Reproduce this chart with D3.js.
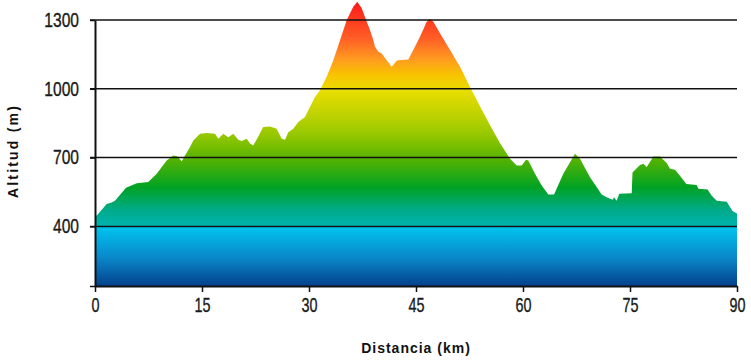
<!DOCTYPE html>
<html>
<head>
<meta charset="utf-8">
<script src="https://cdn.jsdelivr.net/npm/d3@7"></script>
<style>
  body { margin: 0; background: #fff; }
  svg { display: block; }
  .tick text { font-family: "Liberation Sans", Arial, sans-serif; font-size: 20px; fill: #1a1a1a; stroke: #1a1a1a; stroke-width: 0.35px; }
  .title { font-family: "Liberation Sans", Arial, sans-serif; font-weight: bold; font-size: 14px; letter-spacing: 1px; fill: #111; }
</style>
</head>
<body>
<svg id="chart" width="751" height="360"></svg>
<script>
// profile: distance (km) and altitude (m)
const distance = [0, 0.24, 1.64, 2.34, 2.8, 4.35, 5.85, 7.47, 8.65, 10.05, 10.98, 11.54, 12.15, 12.62, 13.32, 13.78,
  14.72, 15.66, 16.82, 17.28, 17.99, 18.69, 19.39, 20.09, 20.57, 21.27, 21.73, 22.19, 22.89, 23.59, 24.53, 25.47,
  26.17, 26.64, 27.1, 27.8, 28.5, 29.44, 29.9, 30.84, 31.54, 32.48, 33.41, 34.35, 35.29, 36.21, 36.77, 37.39,
  38.09, 38.55, 39.02, 39.25, 39.72, 40.19, 40.89, 41.59, 42.29, 42.52, 43.92, 44.62, 45.56, 46.5, 46.96, 47.43,
  48.36, 49.77, 51.17, 52.57, 53.97, 55.38, 56.78, 58.18, 59.12, 59.82, 60.42, 60.74, 61.68, 62.62, 63.55, 64.35,
  65.65, 67.29, 67.99, 69.39, 71.03, 71.73, 72.57, 72.76, 73.13, 73.5, 75.24, 75.35, 76.4, 76.87, 77.34, 77.66,
  78.27, 79.21, 80.15, 80.61, 81.31, 81.78, 82.9, 84.35, 84.58, 85.87, 86.46, 87.16, 88.56, 89.37, 90];
const altitude = [442, 447, 498, 504, 512, 568, 588, 593, 629, 687, 709, 706, 683, 709, 746, 775,
  804, 807, 804, 782, 804, 789, 804, 778, 772, 782, 761, 753, 792, 833, 836, 826,
  782, 778, 811, 826, 855, 877, 906, 964, 994, 1052, 1125, 1212, 1300, 1358, 1380, 1351,
  1292, 1256, 1212, 1183, 1161, 1154, 1125, 1096, 1122, 1125, 1128, 1169, 1227, 1292, 1304, 1292,
  1242, 1169, 1096, 1008, 924, 841, 762, 695, 666, 666, 691, 687, 629, 578, 539, 539,
  629, 717, 695, 614, 539, 527, 516, 527, 512, 542, 545, 635, 668, 673, 659, 674,
  705, 705, 676, 651, 647, 629, 585, 580, 564, 561, 534, 512, 507, 467, 456];

const xTicks = [0, 15, 30, 45, 60, 75, 90];
const yTicks = [400, 700, 1000, 1300];
const yMin = 140;

// colour ramp by altitude
const rampAlt = [140, 260, 400, 400, 470, 570, 700, 800, 900, 990, 1060, 1130, 1220, 1380];
const rampCol = ['#03418c', '#0a86c8', '#00c6ef', '#00b4b0', '#00ab8a', '#00a224', '#5ab400', '#96c800',
  '#c4d400', '#e8dd00', '#f8c400', '#ff9a20', '#ff5e26', '#ff1818'];

const profile = distance.map((d, i) => ({ km: d, alt: altitude[i] }));

const svg = d3.select('#chart');
const x = d3.scaleLinear().domain([0, 90]).range([95, 737]);
const y = d3.scaleLinear().domain([yMin, 1300]).range([286, 20]);

const grad = svg.append('defs').append('linearGradient')
  .attr('id', 'alt-grad')
  .attr('gradientUnits', 'userSpaceOnUse')
  .attr('x1', 0).attr('x2', 0)
  .attr('y1', y(yMin)).attr('y2', y(1380));
const span = y(yMin) - y(1380);
grad.selectAll('stop')
  .data(rampAlt)
  .join('stop')
  .attr('offset', d => (y(yMin) - y(d)) / span)
  .attr('stop-color', (d, i) => rampCol[i]);

const area = d3.area()
  .x(d => x(d.km))
  .y0(y(yMin))
  .y1(d => y(d.alt));

svg.append('path')
  .datum(profile)
  .attr('d', area)
  .attr('fill', 'url(#alt-grad)');

// gridlines over the profile
svg.append('g')
  .selectAll('line')
  .data(yTicks)
  .join('line')
  .attr('x1', 90).attr('x2', 737)
  .attr('y1', d => y(d)).attr('y2', d => y(d))
  .attr('stroke', '#111')
  .attr('stroke-width', 1.5);

const yAxis = d3.axisLeft(y)
  .tickValues([yMin, ...yTicks])
  .tickFormat(d => d === yMin ? '' : d)
  .tickSize(5)
  .tickPadding(11)
  .tickSizeOuter(0);

const gy = svg.append('g')
  .attr('transform', 'translate(95,0)')
  .call(yAxis);
gy.select('.domain').attr('stroke', '#111').attr('stroke-width', 2);
gy.selectAll('.tick line').attr('stroke', '#111').attr('stroke-width', 1.5);
// condensed look: squeeze horizontally, keep right edge at x = -16
gy.selectAll('.tick text')
  .attr('x', -16 / 0.78)
  .attr('transform', 'scale(0.78,1)');

const xAxis = d3.axisBottom(x)
  .tickValues(xTicks)
  .tickSize(6)
  .tickPadding(6)
  .tickSizeOuter(0);

const gx = svg.append('g')
  .attr('transform', 'translate(0,286)')
  .call(xAxis);
gx.select('.domain').attr('stroke', '#111').attr('stroke-width', 2);
gx.selectAll('.tick line').attr('stroke', '#111').attr('stroke-width', 1.5);
gx.selectAll('.tick text').attr('transform', 'scale(0.72,1)');

svg.append('text')
  .attr('class', 'title')
  .attr('transform', 'translate(18,151) rotate(-90)')
  .attr('text-anchor', 'middle')
  .style('letter-spacing', '2.2px')
  .text('Altitud (m)');

svg.append('text')
  .attr('class', 'title')
  .attr('x', 416).attr('y', 353)
  .attr('text-anchor', 'middle')
  .text('Distancia (km)');
</script>
</body>
</html>
